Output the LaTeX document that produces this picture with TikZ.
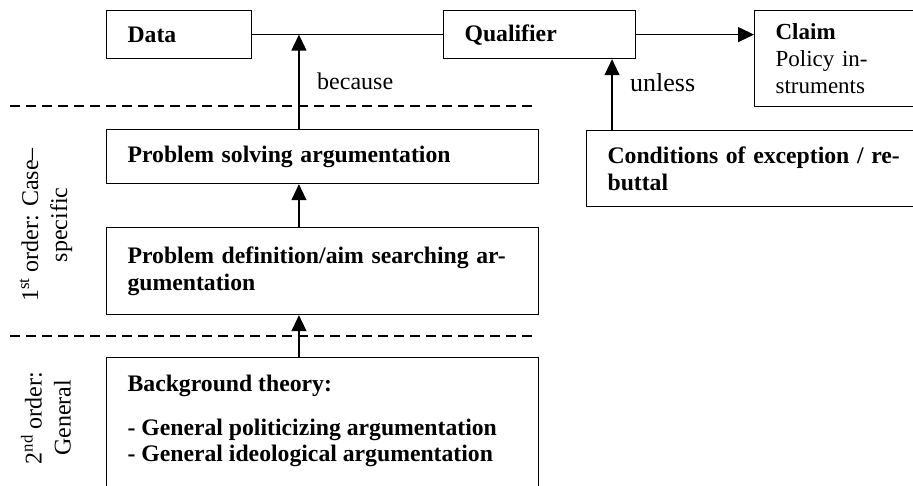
\documentclass[tikz,border=0pt]{standalone}
\usepackage{fontspec}
\setmainfont{Liberation Serif}
\usetikzlibrary{arrows.meta}
\newcommand{\bigbf}[1]{{\fontsize{23.7}{27}\selectfont\bfseries #1}}
\begin{document}
\begin{tikzpicture}[x=1pt,y=-1pt,
  box/.style={draw, line width=1.2pt, anchor=north west, inner xsep=21pt, inner ysep=0pt,
    align=left, font=\fontsize{23}{27}\selectfont},
  conn/.style={line width=1.2pt},
  arr/.style={line width=1.2pt, -{Triangle[length=16pt,width=15pt]}},
  sep/.style={line width=1.2pt, dash pattern=on 10pt off 6pt},
  lab/.style={font=\fontsize{24}{27}\selectfont, inner sep=0pt},
  side/.style={font=\fontsize{24}{29}\selectfont, rotate=90, align=center, inner sep=0pt},
]
\useasboundingbox (0,0) rectangle (913,486);
\clip (0,0) rectangle (913,486);

% boxes
\node[box, minimum width=145pt, minimum height=48pt, text width=103pt] (data) at (106,10) {\bigbf{Data}};
\node[box, minimum width=192pt, minimum height=48pt, text width=150pt] (qual) at (443,10) {\bigbf{Qualifier}};
\node[box, minimum width=190pt, minimum height=96pt, text width=148pt] (claim) at (754,10)
  {\textbf{Claim}\\Policy in-\\struments};
\node[box, minimum width=350pt, minimum height=76pt, text width=308pt] (cond) at (586,130)
  {\bigbf{Conditions of exception / re-}\\\bigbf{buttal}};
\node[box, minimum width=432pt, minimum height=54pt, text width=390pt] (ps) at (106,129)
  {\bigbf{Problem solving argumentation}};
\node[box, minimum width=432pt, minimum height=87pt, text width=390pt] (pd) at (106,227)
  {\bigbf{Problem definition/aim searching ar-}\\\bigbf{gumentation}};
\node[draw, line width=1.2pt, anchor=north west, inner xsep=21pt, inner ysep=17pt,
  font=\fontsize{23.7}{26}\selectfont] (bg) at (106,357)
  {\parbox[c][140pt][t]{390pt}{\bfseries Background theory:\\[18pt]
   - General politicizing argumentation\\
   - General ideological argumentation}};

% junction points
\path (data.east) -- (qual.west) coordinate[pos=0.245] (j1);
\path (qual.south west) -- (qual.south east) coordinate[pos=0.875] (j2);

% connectors
\draw[conn] (data.east) -- (qual.west);
\draw[arr] (qual.east) -- (qual.east -| claim.west);
\draw[arr] (ps.north -| j1) -- (j1);
\draw[arr] (pd.north -| j1) -- (ps.south -| j1);
\draw[arr] (bg.north -| j1) -- (pd.south -| j1);
\draw[arr] (cond.north -| j2) -- (j2);

% labels
\node[lab, anchor=base west] (because) at (317,90) {because};
\node[lab, anchor=base west, font=\fontsize{26}{29}\selectfont] (unless) at (630,92) {unless};

% level separators
\coordinate (s1a) at (10,106); \coordinate (s1b) at (535,106);
\coordinate (s2a) at (10,336); \coordinate (s2b) at (535,336);
\draw[sep] (s1a) -- (s1b);
\draw[sep] (s2a) -- (s2b);

% side labels
\node[side] (first) at (46,225) {1\textsuperscript{st} order: Case--\\specific};
\node[side] (second) at (46,418) {2\textsuperscript{nd} order:\\General};
\end{tikzpicture}
\end{document}
